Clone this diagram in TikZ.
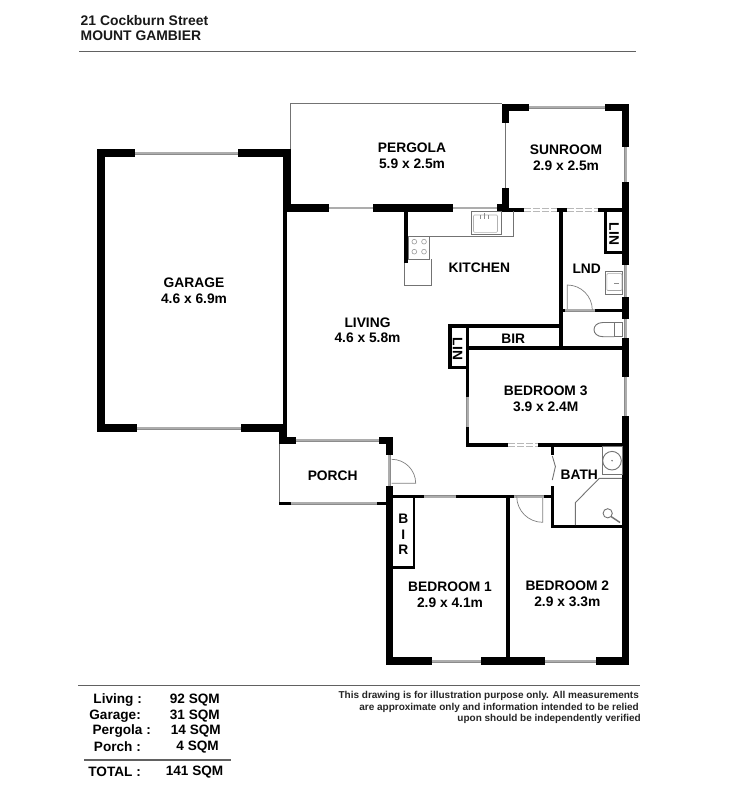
\documentclass[tikz,border=0pt]{standalone}
\usepackage{fontspec}
\setmainfont{Liberation Sans}
\tikzset{
  wall/.style={fill=black,draw=none},
  thinline/.style={draw=black!55,line width=0.9pt},
  swing/.style={draw=black!50,line width=0.7pt},
  glass/.style={draw=black!45,line width=0.5pt,double=black!32,double distance=1.9pt},
  slider/.style={draw=black!28,line width=0.6pt,double=white,double distance=2pt,dash pattern=on 7pt off 2pt},
  room/.style={font=\fontsize{13.8}{15.8}\selectfont\bfseries,align=center,inner sep=0pt},
  stat/.style={font=\fontsize{13.6}{15}\selectfont\bfseries,inner sep=0pt,anchor=east},
  note/.style={font=\fontsize{10}{12}\selectfont\bfseries,inner sep=0pt,anchor=east,text=black!85},
  head/.style={font=\fontsize{13.9}{16}\selectfont\bfseries,inner sep=0pt,anchor=west,text=black!90},
  rule/.style={draw=black!62,line width=1.2pt}
}
\newcommand{\wl}[4]{\fill[wall] (#1,#2) rectangle (#3,#4);}
\begin{document}
\begin{tikzpicture}[x=1pt,y=-1pt]
\useasboundingbox (0,0) rectangle (750,792);
\fill[white] (0,0) rectangle (750,792);
% header
\node[head] (h1) at (80.5,20.7) {21 Cockburn Street};
\node[head] (h2) at (80.5,35.7) {MOUNT GAMBIER};
\draw[rule] (79,51.6) -- (636,51.6);
% thin outlines
\draw[thinline] (290.7,150) -- (290.7,103.9) -- (502,103.9);
\draw[thinline] (505.4,122) -- (505.4,189);
\draw[thinline] (279,444) -- (279,505);
% garage
\wl{97.3}{149.3}{105}{432}
\wl{97.3}{149.3}{135}{157.3}
\wl{238.3}{149.3}{290.7}{157.3}
\wl{282.7}{149.3}{290.7}{211.7}
\wl{97.3}{424.3}{137.3}{432}
\wl{241}{424.3}{286.7}{431.5}
\draw[glass] (135,153.3) -- (238.3,153.3);
\draw[glass] (137.3,428.2) -- (241,428.2);
% living walls
\wl{282.9}{204.3}{286.9}{431}
\wl{282.9}{204.3}{329.3}{211.7}
\wl{372.7}{204.3}{453.3}{211.7}
\wl{496.7}{204.3}{509.3}{211.7}
\draw[glass] (329.3,208) -- (372.7,208);
\draw[glass] (453.3,208) -- (496.7,208);
% sunroom
\wl{501.7}{103.7}{529.3}{111}
\wl{501.7}{103.7}{509.3}{122.7}
\wl{501.7}{188}{509.3}{211.7}
\wl{509}{208.2}{524}{211.7}
\wl{604.7}{103.7}{629.3}{111}
\wl{622}{103.7}{629.3}{147.3}
\wl{622}{181.7}{629.3}{265}
\wl{622}{296.7}{629.3}{319.3}
\wl{622}{338}{629.3}{376.7}
\wl{622}{416}{629.3}{665}
\draw[glass] (529.3,107.2) -- (604.7,107.2);
\draw[glass] (625.6,147.3) -- (625.6,181.7);
\draw[glass] (625.6,265) -- (625.6,296.7);
\draw[glass] (625.6,319.3) -- (625.6,338);
\draw[glass] (625.6,376.7) -- (625.6,416);
\draw[slider] (524,210) -- (556.7,210);
\draw[slider] (566.7,210) -- (598,210);
\wl{556.7}{208.2}{566.7}{211.7}
\wl{598}{208.2}{622}{211.7}
% laundry partition
\wl{559.4}{208.2}{563.4}{349.5}
\wl{604.3}{210}{606.8}{254}
\wl{604.3}{250.8}{622}{254}
\wl{595}{308.6}{622}{312.2}
\wl{562}{308.6}{565}{312.2}
\draw[glass] (565,310.4) -- (595,310.4);
% BIR and linen
\wl{448.3}{324.3}{560}{327.7}
\wl{448.3}{324.3}{451.6}{368.6}
\wl{448.3}{365.8}{469.3}{368.6}
\wl{466}{324.3}{469.3}{396.7}
\wl{466}{346.2}{622}{349.6}
% bedroom 3
\wl{466}{426.7}{469.3}{446.7}
\wl{466}{443.3}{508.3}{446.7}
\wl{538.3}{443.3}{622}{446.7}
\draw[glass] (467.6,396.7) -- (467.6,426.7);
\draw[slider] (508.3,445) -- (538.3,445);
% porch
\wl{279}{431}{286.7}{444.3}
\wl{279}{436.7}{295.7}{444.3}
\wl{379.3}{436.7}{393.3}{444.3}
\wl{386}{436.7}{393.3}{455}
\wl{386}{485.7}{393.3}{665}
\wl{279}{501.7}{290.7}{505}
\wl{376.7}{501.7}{386}{505}
\draw[glass] (295.7,440.3) -- (379.3,440.3);
\draw[glass] (290.7,503.4) -- (376.7,503.4);
\draw[glass] (389.4,455) -- (389.4,485.7);
% bedrooms
\wl{386}{657.3}{431.7}{665}
\wl{481}{657.3}{545}{665}
\wl{595.7}{657.3}{629.3}{665}
\draw[glass] (431.7,661.2) -- (481,661.2);
\draw[glass] (545,661.2) -- (595.7,661.2);
\wl{393}{495}{424.3}{498.4}
\wl{455.7}{495}{514}{498.4}
\wl{544}{495}{554.3}{498.4}
\draw[glass] (424.3,496.7) -- (455.7,496.7);
\draw[glass] (514,496.7) -- (544,496.7);
\wl{505.7}{498}{509.7}{657.5}
\wl{413.2}{498}{415.2}{569}
\wl{393}{566}{415.2}{569}
% bath
\wl{551}{446}{554.3}{455}
\wl{551}{485.7}{554.3}{528.3}
\wl{551}{524.6}{622}{528.3}
% door swings
\draw[swing] (391.7,459.3) arc (90:0:24pt) -- (391.7,483.3);
\draw[swing] (542.7,498) -- (542.7,522.3) arc (270:180:26pt);
\draw[swing] (567.3,309) -- (567.3,285) arc (90:0:25pt);
\draw[thinline] (552.3,456) -- (555.4,466.5) -- (552.3,480);
% kitchen
\draw[thinline] (408,236.8) rectangle (429.6,259.3);
\draw[thinline] (429.6,236.8) -- (513.4,236.8) -- (513.4,211);
\draw[thinline] (404.3,263) -- (404.3,285.5) -- (431,285.5) -- (431,259.3);
\draw[thinline] (404.3,259.3) -- (429.6,259.3);
\draw[thinline] (471.2,211.7) rectangle (501.7,234.6);
\draw[draw=black!30,line width=.6pt,rounded corners=1pt] (473.5,215) rectangle (497.5,232.3);
\draw[draw=black!45,line width=.6pt] (480,215) -- (480,219) (484,213) -- (484,219) (488,215) -- (488,219);
\foreach \px/\py in {414.3/241.7,424/241.7,414.3/251.7,424/251.7}
  \draw[draw=black!40,line width=.6pt] (\px,\py) circle (2.4pt);
\wl{404.3}{211}{408.3}{263.3}
% laundry sink
\draw[thinline] (605,271.7) rectangle (622,294.3);
\draw[draw=black!35,line width=.6pt,rounded corners=1pt] (606.8,273.6) rectangle (622,290.5);
\draw[draw=black!45,line width=.6pt] (614,283) -- (619,283);
% WC
\draw[thinline] (614,322.5) -- (622,322.5) -- (622,336.7) -- (614,336.7) -- cycle;
\draw[thinline] (614,322.5) -- (603,322.5) .. controls (591,322.5) and (591,336.7) .. (603,336.7) -- (614,336.7);
% bath fixtures
\draw[thinline] (602.4,446.7) rectangle (622,474);
\draw[thinline] (612,460.7) circle (9.3pt);
\fill[black!60] (612,460.7) circle (.8pt);
\draw[thinline] (622,478.3) -- (599.3,478.3) -- (575.3,502.7) -- (575.3,525);
\draw[thinline] (607.7,513.3) circle (4.6pt);
\draw[draw=black!55,line width=1.5pt] (611,516.5) -- (620,522.5);
% room labels
\node[room] (pergola) at (412,155.7) {PERGOLA\\5.9 x 2.5m};
\node[room] (sunroom) at (566,158) {SUNROOM\\2.9 x 2.5m};
\node[room] (garage) at (194,291) {GARAGE\\4.6 x 6.9m};
\node[room] (living) at (367.5,330.3) {LIVING\\4.6 x 5.8m};
\node[room] (kitchen) at (479.3,267.7) {KITCHEN};
\node[room] (lnd) at (586.7,268.3) {LND};
\node[room] (bir1) at (513.3,339) {BIR};
\node[room] (bed3) at (545.7,398.7) {BEDROOM 3\\3.9 x 2.4M};
\node[room] (porch) at (332.7,476) {PORCH};
\node[room] (bath) at (579.3,474.3) {BATH};
\node[room] (bed1) at (450,594.5) {BEDROOM 1\\2.9 x 4.1m};
\node[room] (bed2) at (567.3,593.7) {BEDROOM 2\\2.9 x 3.3m};
\node[room,rotate=-90] (lin1) at (614,234) {LIN};
\node[room,rotate=-90] (lin2) at (457.6,349) {LIN};
\node[room] (b1) at (403.3,519) {B};
\node[room] (b2) at (403.3,534.3) {I};
\node[room] (b3) at (403.3,550) {R};
% footer
\draw[rule] (78,685.2) -- (640,685.2);
\draw[rule] (84,760) -- (231,760);
\node[stat] (s1a) at (142,700) {Living :};
\node[stat] (s2a) at (141,715.7) {Garage:};
\node[stat] (s3a) at (151,731.3) {Pergola :};
\node[stat] (s4a) at (141,746.7) {Porch :};
\node[stat] (s5a) at (141,771.7) {TOTAL :};
\node[stat] (s1b) at (220,700) {92 SQM};
\node[stat] (s2b) at (220,715.7) {31 SQM};
\node[stat] (s3b) at (221,731.3) {14 SQM};
\node[stat] (s4b) at (219,746.7) {4 SQM};
\node[stat] (s5b) at (223.5,771.7) {141 SQM};
\node[note] (n1) at (639,696) {This drawing is for illustration purpose only. All measurements};
\node[note] (n2) at (639,707.5) {are approximate only and information intended to be relied};
\node[note] (n3) at (641,719) {upon should be independently verified};
\end{tikzpicture}
\end{document}
